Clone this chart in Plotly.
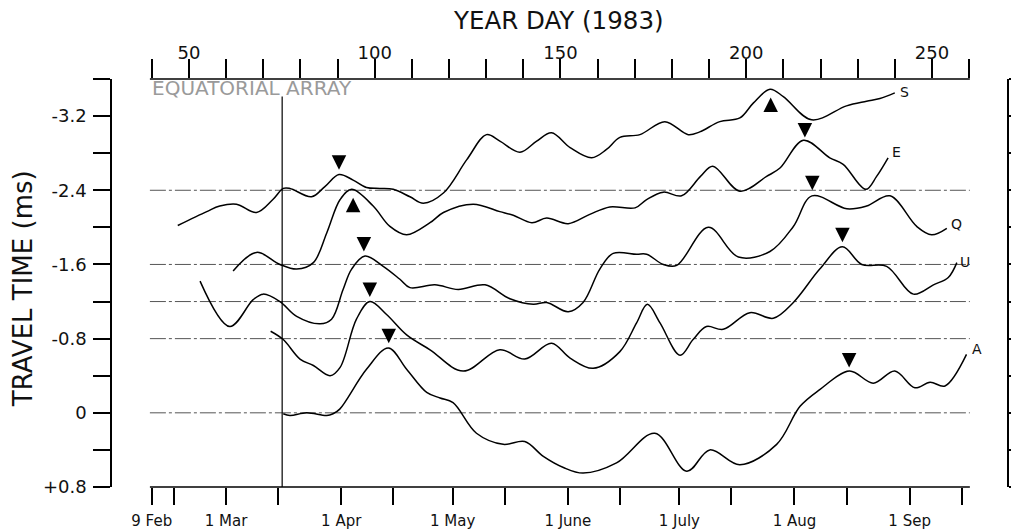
import plotly.graph_objects as go

# ---------------- data (year day, travel-time anomaly in ms) ----------------
S_DAY = [47.0, 54.8, 58.3, 62.8, 68.2, 72.6, 75.4, 77.2, 83.0, 86.6, 90.4, 94.2, 97.8, 101.4, 105.0,
         109.5, 113.1, 118.5, 124.8, 130.1, 133.7, 139.1, 143.6, 147.6, 152.6, 158.4, 162.4, 166.0,
         171.4, 178.1, 184.4, 187.5, 192.9, 198.3, 201.9, 206.4, 210.0, 217.6, 227.0, 232.4, 236.0, 240.0]
S_VAL = [-2.02, -2.17, -2.23, -2.25, -2.16, -2.30, -2.42, -2.42, -2.33, -2.44, -2.57, -2.51, -2.43, -2.42, -2.41,
         -2.33, -2.26, -2.37, -2.73, -3.00, -2.93, -2.81, -2.93, -3.02, -2.86, -2.75, -2.84, -2.97,
         -3.00, -3.14, -3.00, -3.03, -3.14, -3.18, -3.34, -3.49, -3.41, -3.16, -3.31, -3.36, -3.39, -3.45]

E_DAY = [61.9, 68.2, 74.5, 79.0, 83.5, 87.1, 90.7, 93.8, 99.6, 104.1, 108.6, 114.9, 118.5, 126.5, 133.7,
         137.3, 142.3, 146.3, 152.1, 157.9, 163.3, 170.1, 173.2, 177.7, 182.6, 187.7, 191.0, 198.3,
         205.5, 209.1, 215.4, 222.5, 226.1, 232.2, 235.1, 238.2]
E_VAL = [-1.53, -1.73, -1.60, -1.55, -1.62, -1.94, -2.30, -2.41, -2.23, -2.01, -1.92, -2.05, -2.16, -2.25, -2.17,
         -2.13, -2.05, -2.10, -2.04, -2.14, -2.22, -2.21, -2.30, -2.38, -2.34, -2.55, -2.66, -2.39,
         -2.55, -2.64, -2.94, -2.75, -2.68, -2.41, -2.55, -2.75]

Q_DAY = [53.0, 61.0, 67.3, 70.0, 74.5, 79.0, 85.3, 88.4, 91.5, 93.8, 97.4, 102.3, 106.8, 109.5, 116.2,
         122.5, 129.7, 136.4, 142.7, 146.3, 152.1, 156.1, 160.6, 164.2, 170.5, 173.2, 177.7, 181.3,
         189.8, 197.9, 206.4, 212.7, 217.7, 227.1, 232.4, 238.7, 245.9, 249.9, 254.0]
Q_VAL = [-1.42, -0.93, -1.22, -1.28, -1.20, -1.04, -0.96, -1.01, -1.33, -1.55, -1.69, -1.58, -1.44, -1.35, -1.38,
         -1.33, -1.38, -1.23, -1.17, -1.19, -1.09, -1.19, -1.55, -1.72, -1.71, -1.71, -1.60, -1.59,
         -2.00, -1.68, -1.74, -2.01, -2.34, -2.20, -2.23, -2.34, -2.01, -1.92, -1.99]

U_DAY = [72.0, 75.4, 79.9, 83.5, 88.0, 90.7, 95.1, 98.7, 103.2, 108.6, 114.9, 123.8, 133.7, 140.4, 147.6,
         152.6, 158.8, 166.0, 170.5, 173.4, 176.8, 182.2, 185.7, 189.3, 193.8, 201.0, 207.3, 212.7,
         219.8, 225.9, 231.1, 237.8, 245.0, 250.4, 254.4, 256.7]
U_VAL = [-0.88, -0.79, -0.58, -0.51, -0.40, -0.49, -1.01, -1.20, -1.06, -0.84, -0.68, -0.45, -0.68, -0.58, -0.75,
         -0.59, -0.48, -0.66, -0.97, -1.17, -0.97, -0.62, -0.79, -0.93, -0.90, -1.08, -1.02, -1.19,
         -1.55, -1.79, -1.60, -1.58, -1.28, -1.38, -1.46, -1.62]

A_DAY = [75.4, 77.2, 81.7, 87.1, 88.8, 90.6, 97.8, 103.7, 108.6, 114.0, 117.6, 121.1, 127.4, 134.6,
         140.4, 145.4, 150.8, 156.1, 165.1, 175.4, 184.0, 190.2, 198.3, 208.2, 214.5, 219.8, 227.8,
         234.2, 240.0, 245.4, 249.5, 253.5, 259.3]
A_VAL = [0.01, 0.03, 0.00, 0.03, 0.01, -0.04, -0.47, -0.70, -0.47, -0.22, -0.16, -0.11, 0.22, 0.34,
         0.31, 0.47, 0.59, 0.65, 0.54, 0.22, 0.63, 0.40, 0.56, 0.34, -0.07, -0.25, -0.45,
         -0.32, -0.45, -0.27, -0.33, -0.29, -0.63]

SERIES_NAMES = ["S", "E", "Q", "U", "A"]

# peak markers (apex position)
MARK_DAY = [90.4, 94.2, 97.1, 98.7, 103.8, 206.6, 215.8, 217.8, 225.9, 227.7]
MARK_VAL = [-2.62, -2.32, -1.74, -1.25, -0.75, -3.40, -2.97, -2.40, -1.84, -0.49]
MARK_KIND = ["down", "up", "down", "down", "down", "up", "down", "down", "down", "down"]

BASELINES = [-2.4, -1.6, -1.2, -0.8, 0.0]
ARRAY_START_DAY = 75.1

YEARDAY_TICKS = list(range(40, 261, 10))
YEARDAY_LABELED = [50, 100, 150, 200, 250]

DATE_TICKS = [40, 46, 60, 74, 91, 105, 121, 135, 152, 166, 182, 196, 213, 227, 244, 258]
DATE_LABELS = ["9 Feb", "", "1 Mar", "", "1 Apr", "", "1 May", "", "1 June", "", "1 July", "",
               "1 Aug", "", "1 Sep", ""]

TT_TICKS = [-3.6, -3.2, -2.8, -2.4, -2.0, -1.6, -1.2, -0.8, -0.4, 0.0, 0.4, 0.8]
TT_LABELS = ["", "-3.2", "", "-2.4", "", "-1.6", "", "-0.8", "", "0", "", "+0.8"]

# ---------------- layout constants ----------------
X_RANGE = [29.3, 270.2]
Y_RANGE = [0.8, -3.6]
AXIS_X0, AXIS_X1 = 39.5, 260.2
INK = "#111111"
FONT = "DejaVu Sans"

curves = [(S_DAY, S_VAL), (E_DAY, E_VAL), (Q_DAY, Q_VAL), (U_DAY, U_VAL), (A_DAY, A_VAL)]
label_shift = {"S": (3, 1), "E": (2, 6), "Q": (2, 4), "U": (1, 1), "A": (3, 5)}

fig = go.Figure()

for name, (d, v) in zip(SERIES_NAMES, curves):
    fig.add_trace(go.Scatter(
        x=d, y=v, mode="lines", name=name,
        line=dict(color="black", width=1.5, shape="spline", smoothing=1.0),
        hoverinfo="skip", showlegend=False))

fig.add_trace(go.Scatter(
    x=MARK_DAY, y=MARK_VAL, mode="markers",
    marker=dict(symbol=["arrow-down" if k == "down" else "arrow-up" for k in MARK_KIND],
                size=14.5, color="black", line=dict(width=0)),
    cliponaxis=False, hoverinfo="skip", showlegend=False))

# dummy trace for the secondary (top / right) axes
fig.add_trace(go.Scatter(x=[None], y=[None], xaxis="x2", yaxis="y2",
                         hoverinfo="skip", showlegend=False))

shapes = []
for b in BASELINES:
    shapes.append(dict(type="line", xref="x", yref="y", x0=AXIS_X0, x1=AXIS_X1, y0=b, y1=b,
                       line=dict(color="#555555", width=1, dash="16px,3px,3px,3px"), layer="below"))
# top and bottom axis lines
for yy in (0, 1):
    shapes.append(dict(type="line", xref="x", yref="paper", x0=AXIS_X0, x1=AXIS_X1, y0=yy, y1=yy,
                       line=dict(color="black", width=1.5)))
# equatorial array start
shapes.append(dict(type="line", xref="x", yref="y", x0=ARRAY_START_DAY, x1=ARRAY_START_DAY,
                   y0=-3.41, y1=0.8, line=dict(color="black", width=1.2)))

annotations = []
for name, (d, v) in zip(SERIES_NAMES, curves):
    xs, ys = label_shift[name]
    annotations.append(dict(x=d[-1], y=v[-1], xref="x", yref="y", text=name, showarrow=False,
                            xanchor="left", yanchor="middle", xshift=xs, yshift=ys,
                            font=dict(family=FONT, size=14, color=INK)))
annotations.append(dict(x=AXIS_X0, y=-3.50, xref="x", yref="y", text="EQUATORIAL ARRAY",
                        showarrow=False, xanchor="left", yanchor="middle",
                        font=dict(family=FONT, size=20, color="#9a9a9a")))
annotations.append(dict(x=0.4994, y=1.1446, xref="paper", yref="paper", text="YEAR DAY (1983)",
                        showarrow=False, xanchor="center", yanchor="middle",
                        font=dict(family=FONT, size=24.5, color=INK)))
annotations.append(dict(x=-0.0994, y=0.485, xref="paper", yref="paper", text="TRAVEL TIME (ms)",
                        showarrow=False, xanchor="center", yanchor="middle", textangle=-90,
                        font=dict(family=FONT, size=26, color=INK)))

fig.update_layout(
    width=1011, height=530,
    margin=dict(l=112, r=4, t=79, b=43, pad=0, autoexpand=False),
    paper_bgcolor="white", plot_bgcolor="white",
    showlegend=False,
    xaxis=dict(range=X_RANGE, showgrid=False, zeroline=False, showline=False, automargin=False,
               tickmode="array", tickvals=DATE_TICKS, ticktext=DATE_LABELS,
               ticks="outside", ticklen=17, tickwidth=1.5, tickcolor="black",
               ticklabelstandoff=3,
               tickfont=dict(family=FONT, size=15, color=INK)),
    xaxis2=dict(range=X_RANGE, overlaying="x", side="top", anchor="y", automargin=False,
                showgrid=False, zeroline=False, showline=False,
                tickmode="array", tickvals=YEARDAY_TICKS,
                ticktext=[str(t) if t in YEARDAY_LABELED else "" for t in YEARDAY_TICKS],
                ticks="outside", ticklen=19, tickwidth=1.5, tickcolor="black",
                ticklabelstandoff=-7,
                tickfont=dict(family=FONT, size=18, color=INK)),
    yaxis=dict(range=Y_RANGE, showgrid=False, zeroline=False, showline=True, automargin=False,
               linecolor="black", linewidth=1.5,
               tickmode="array", tickvals=TT_TICKS, ticktext=TT_LABELS,
               ticks="outside", ticklen=17, tickwidth=1.5, tickcolor="black",
               ticklabelstandoff=3,
               tickfont=dict(family=FONT, size=18, color=INK)),
    yaxis2=dict(range=Y_RANGE, overlaying="y", side="right", anchor="x", automargin=False,
                showgrid=False, zeroline=False, showline=True,
                linecolor="black", linewidth=1.5,
                tickmode="array", tickvals=TT_TICKS, showticklabels=False,
                ticks="outside", ticklen=6, tickwidth=1.5, tickcolor="black"),
    shapes=shapes,
    annotations=annotations,
)

fig.write_html("out.html", config={"displayModeBar": False})
